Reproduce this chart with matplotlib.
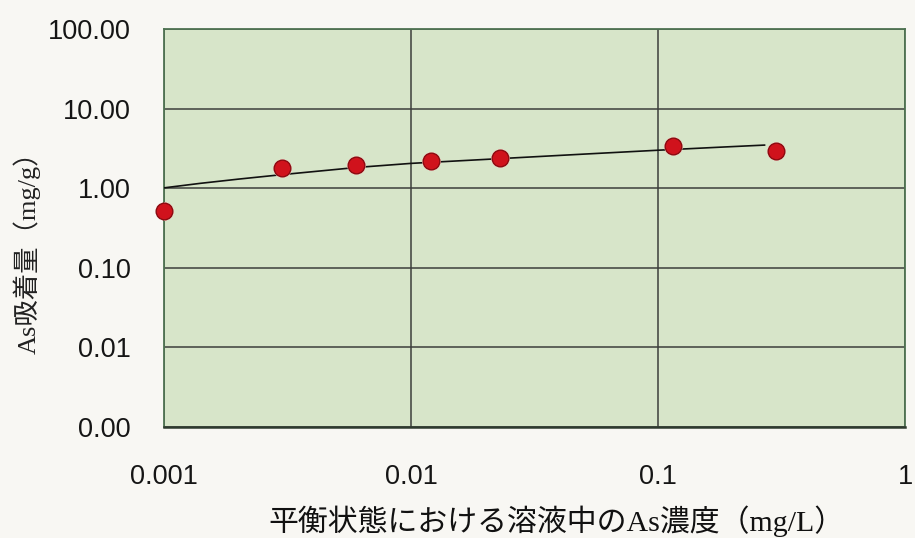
import matplotlib
matplotlib.use("Agg")
import matplotlib.pyplot as plt
from matplotlib.ticker import FixedLocator, FixedFormatter, NullLocator

# measured points
conc = [0.001, 0.003, 0.006, 0.012, 0.023, 0.115, 0.30]
ads = [0.52, 1.80, 1.95, 2.20, 2.40, 3.38, 2.94]

# fitted curve
curve_x = [0.001, 0.0014, 0.002, 0.003, 0.006, 0.01, 0.019, 0.05, 0.1, 0.18, 0.27]
curve_y = [1.01, 1.15, 1.30, 1.48, 1.82, 2.05, 2.28, 2.68, 3.00, 3.28, 3.48]

x_ticks = [0.001, 0.01, 0.1, 1]
x_ticklabels = ["0.001", "0.01", "0.1", "1"]
y_ticks = [0.001, 0.01, 0.1, 1, 10, 100]
y_ticklabels = ["0.00", "0.01", "0.10", "1.00", "10.00", "100.00"]

xlabel = "平衡状態における溶液中のAs濃度（mg/L）"
ylabel = "As吸着量（mg/g）"

W, H = 915, 538
fig = plt.figure(figsize=(W / 100, H / 100), dpi=100, facecolor="#f8f7f3")
ax = fig.add_axes([164 / W, 1 - 427 / H, (905 - 164) / W, (427 - 29) / H])
ax.set_facecolor("#d7e5c9")
ax.set_xscale("log")
ax.set_yscale("log")
ax.set_xlim(0.001, 1)
ax.set_ylim(0.001, 100)

ax.xaxis.set_major_locator(FixedLocator(x_ticks))
ax.xaxis.set_major_formatter(FixedFormatter(x_ticklabels))
ax.yaxis.set_major_locator(FixedLocator(y_ticks))
ax.yaxis.set_major_formatter(FixedFormatter(y_ticklabels))
ax.xaxis.set_minor_locator(NullLocator())
ax.yaxis.set_minor_locator(NullLocator())

ax.grid(True, which="major", color="#3c3f3c", linewidth=1.1)
ax.set_axisbelow(True)
ax.tick_params(axis="both", length=0, labelsize=19.5, colors="#151515")
ax.tick_params(axis="x", pad=27)
ax.tick_params(axis="y", pad=24)
for lab in ax.get_xticklabels() + ax.get_yticklabels():
    lab.set_fontfamily("Liberation Sans")

for s in ["top", "right", "left"]:
    ax.spines[s].set_color("#4f7352")
    ax.spines[s].set_linewidth(1.3)
ax.spines["bottom"].set_color("#2e3a2e")
ax.spines["bottom"].set_linewidth(1.8)

ax.plot(curve_x, curve_y, color="#111111", linewidth=1.2, zorder=3)
ax.plot(conc, ads, linestyle="none", marker="o", markersize=13.5,
        markerfacecolor="#f3d9cc", markeredgecolor="none", zorder=4)
ax.plot(conc, ads, linestyle="none", marker="o", markersize=12,
        markerfacecolor="#d0121c", markeredgecolor="#8a0a10",
        markeredgewidth=1.0, zorder=5, clip_on=False)

fam = ["Liberation Serif", "Noto Sans CJK JP", "DejaVu Sans"]
fig.text(556 / W, 1 - 521 / H, xlabel, ha="center", va="center",
         fontsize=21.5, family=fam, color="#111111")
fig.text(27 / W, 1 - 246 / H, ylabel, ha="center", va="center",
         rotation=90, fontsize=19, family=fam, color="#222222")

fig.savefig("out.png", dpi=100, facecolor=fig.get_facecolor())
